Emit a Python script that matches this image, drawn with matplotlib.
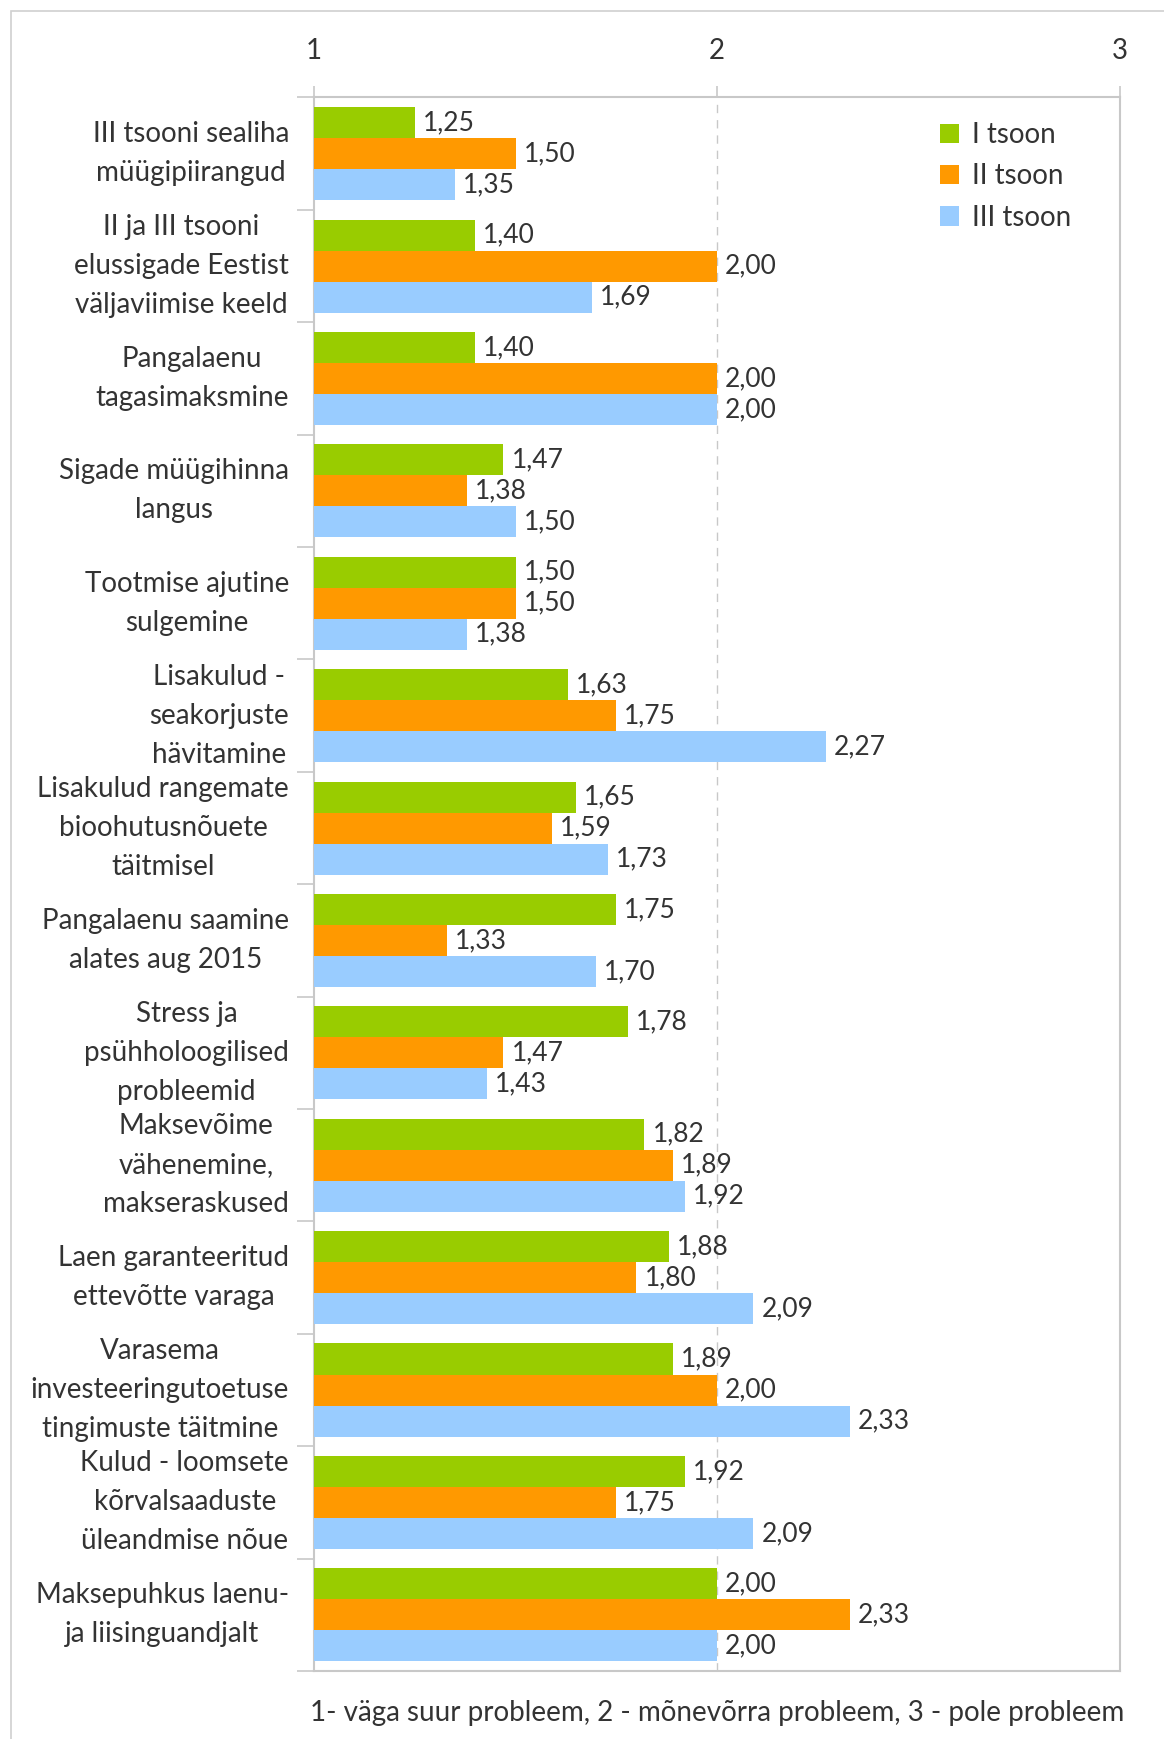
import matplotlib
matplotlib.use("Agg")
import matplotlib.pyplot as plt
import numpy as np
from matplotlib.patches import Rectangle

plt.rcParams['font.family'] = ['Lato', 'DejaVu Sans']

categories = [
    "III tsooni sealiha\nmüügipiirangud",
    "II ja III tsooni\nelussigade Eestist\nväljaviimise keeld",
    "Pangalaenu\ntagasimaksmine",
    "Sigade müügihinna\nlangus",
    "Tootmise ajutine\nsulgemine",
    "Lisakulud -\nseakorjuste\nhävitamine",
    "Lisakulud rangemate\nbioohutusnõuete\ntäitmisel",
    "Pangalaenu saamine\nalates aug 2015",
    "Stress ja\npsühholoogilised\nprobleemid",
    "Maksevõime\nvähenemine,\nmakseraskused",
    "Laen garanteeritud\nettevõtte varaga",
    "Varasema\ninvesteeringutoetuse\ntingimuste täitmine",
    "Kulud - loomsete\nkõrvalsaaduste\nüleandmise nõue",
    "Maksepuhkus laenu-\nja liisinguandjalt",
]
series_names = ["I tsoon", "II tsoon", "III tsoon"]
zone1 = [1.25, 1.40, 1.40, 1.47, 1.50, 1.63, 1.65, 1.75, 1.78, 1.82, 1.88, 1.89, 1.92, 2.00]
zone2 = [1.50, 2.00, 2.00, 1.38, 1.50, 1.75, 1.59, 1.33, 1.47, 1.89, 1.80, 2.00, 1.75, 2.33]
zone3 = [1.35, 1.69, 2.00, 1.50, 1.38, 2.27, 1.73, 1.70, 1.43, 1.92, 2.09, 2.33, 2.09, 2.00]
x_ticks = [1, 2, 3]
footer = "1- väga suur probleem, 2 - mõnevõrra probleem, 3 - pole probleem"

colors = ["#99CC00", "#FF9900", "#99CCFF"]
text_color = "#333333"
grid_color = "#C8C8C8"
fs = 20

W, H = 1164, 1739
fig = plt.figure(figsize=(W / 100, H / 100), dpi=100)
fig.patches.append(Rectangle((11 / W, -0.01), 1.2, 1 - 11 / H + 0.01, transform=fig.transFigure,
                             fill=False, edgecolor="#D0D0D0", linewidth=1.2))

left, right, top, bottom = 314, 1120, 97.5, 1671
ax = fig.add_axes([left / W, 1 - bottom / H, (right - left) / W, (bottom - top) / H])

n = len(categories)
y = np.arange(n)
bh = 0.276
data = [zone1, zone2, zone3]
for i, (vals, c, name) in enumerate(zip(data, colors, series_names)):
    pos = y + (i - 1) * bh
    ax.barh(pos, np.array(vals) - 1, left=1, height=bh, color=c, label=name, zorder=3)
    for p, v in zip(pos, vals):
        ax.annotate(f"{v:.2f}".replace(".", ","), (v, p), xytext=(8, 0),
                    textcoords="offset pixels", va="center", ha="left",
                    fontsize=19, color=text_color, zorder=4)

ax.set_xlim(1, 3)
ax.set_ylim(n - 0.5, -0.5)
ax.xaxis.tick_top()
ax.set_xticks(x_ticks)
ax.set_xticklabels([str(t) for t in x_ticks])
ax.tick_params(axis="x", which="major", length=8, color=grid_color, width=1.2,
               labelsize=fs, labelcolor=text_color, pad=16)

ax.set_yticks(y)
ax.set_yticklabels(categories, fontsize=fs, color=text_color, multialignment="center",
                   linespacing=1.62, va="center")
ax.tick_params(axis="y", which="major", length=0, pad=18)
ax.set_yticks(np.arange(-0.5, n, 1), minor=True)
ax.tick_params(axis="y", which="minor", length=12, color=grid_color, width=1.2)

ax.axvline(2, color=grid_color, linestyle=(0, (6, 5)), linewidth=1, zorder=1)
for s in ax.spines.values():
    s.set_color(grid_color)
    s.set_linewidth(1.5)

leg = ax.legend(loc="upper left", bbox_to_anchor=((940 - left) / (right - left), 1 - (122 - top) / (bottom - top)),
                frameon=False, fontsize=fs, handlelength=0.7, handleheight=0.7,
                handletextpad=0.45, labelspacing=0.55, borderaxespad=0, borderpad=0)
for t in leg.get_texts():
    t.set_color(text_color)

fig.text((left + right) / 2 / W, 1 - 1713 / H, footer, ha="center", va="center",
         fontsize=fs, color=text_color)

fig.savefig("out.png", dpi=100)
